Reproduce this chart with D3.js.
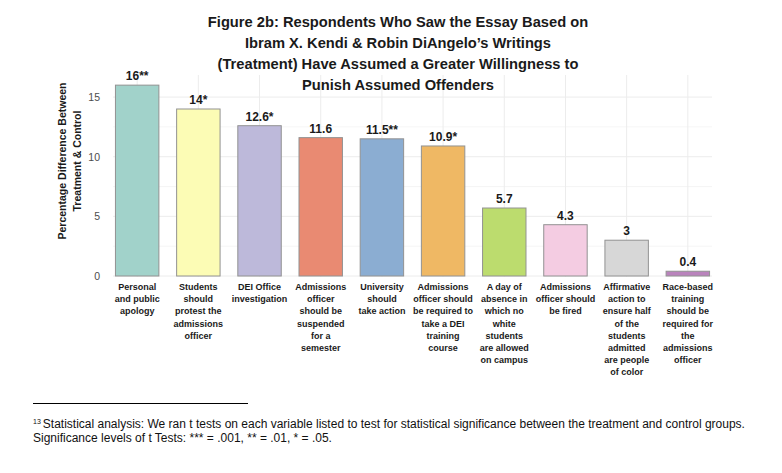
<!DOCTYPE html>
<html>
<head>
<meta charset="utf-8">
<script src="https://cdn.jsdelivr.net/npm/d3@7"></script>
<style>
  html, body { margin: 0; padding: 0; background: #fff; }
  svg { display: block; font-family: "Liberation Sans", Arial, sans-serif; }
</style>
</head>
<body>
<div id="chart"></div>
<script>
// data
const categories = [
  ["Personal", "and public", "apology"],
  ["Students", "should", "protest the", "admissions", "officer"],
  ["DEI Office", "investigation"],
  ["Admissions", "officer", "should be", "suspended", "for a", "semester"],
  ["University", "should", "take action"],
  ["Admissions", "officer should", "be required to", "take a DEI", "training", "course"],
  ["A day of", "absence in", "which no", "white", "students", "are allowed", "on campus"],
  ["Admissions", "officer should", "be fired"],
  ["Affirmative", "action to", "ensure half", "of the", "students", "admitted", "are people", "of color"],
  ["Race-based", "training", "should be", "required for", "the", "admissions", "officer"]
];
const values = [16, 14, 12.6, 11.6, 11.5, 10.9, 5.7, 4.3, 3, 0.4];
const stars = ["**", "*", "*", "", "**", "*", "", "", "", ""];
const colors = ["#A1D2CA", "#FCFCB5", "#BDB9DA", "#E98A72", "#8BADD2", "#EFB864", "#BCDC6E", "#F4CCE2", "#D7D7D7", "#B983BC"];
const yTicks = [0, 5, 10, 15];
const yMinor = [2.5, 7.5, 12.5];
const titleLines = [
  "Figure 2b: Respondents Who Saw the Essay Based on",
  "Ibram X. Kendi & Robin DiAngelo\u2019s Writings",
  "(Treatment) Have Assumed a Greater Willingness to",
  "Punish Assumed Offenders"
];
const yTitle = ["Percentage Difference Between", "Treatment & Control"];
const footLines = [
  "Statistical analysis: We ran t tests on each variable listed to test for statistical significance between the treatment and control groups.",
  "Significance levels of t Tests: *** = .001, ** = .01, * = .05."
];

const W = 782, H = 473;
const panel = { left: 113, right: 712, top: 75, bottom: 277 };

const svg = d3.select("#chart").append("svg").attr("width", W).attr("height", H);

const ids = d3.range(values.length);
const x = d3.scaleBand().domain(ids).range([panel.left, panel.right]).paddingInner(0.29).paddingOuter(0.04);
const y = d3.scaleLinear().domain([0, 16.85]).range([276, panel.top]);

// grid
const grid = svg.append("g");
grid.selectAll(".minor").data(yMinor).enter().append("line")
  .attr("x1", panel.left).attr("x2", panel.right)
  .attr("y1", d => y(d)).attr("y2", d => y(d))
  .attr("stroke", "#f3f3f3").attr("stroke-width", 0.8);
grid.selectAll(".major").data(yTicks).enter().append("line")
  .attr("x1", panel.left).attr("x2", panel.right)
  .attr("y1", d => y(d)).attr("y2", d => y(d))
  .attr("stroke", "#ececec").attr("stroke-width", 1);
grid.selectAll(".vert").data(ids).enter().append("line")
  .attr("x1", d => x(d) + x.bandwidth() / 2).attr("x2", d => x(d) + x.bandwidth() / 2)
  .attr("y1", panel.top).attr("y2", panel.bottom)
  .attr("stroke", "#ececec").attr("stroke-width", 1);

// bars
svg.selectAll("rect.bar").data(ids).enter().append("rect")
  .attr("x", d => x(d)).attr("width", x.bandwidth())
  .attr("y", d => y(values[d])).attr("height", d => y(0) - y(values[d]))
  .attr("fill", d => colors[d])
  .attr("stroke", "#929292").attr("stroke-width", 1);

// value labels
svg.selectAll("text.val").data(ids).enter().append("text")
  .attr("x", d => x(d) + x.bandwidth() / 2).attr("y", d => y(values[d]) - 5)
  .attr("text-anchor", "middle").attr("font-size", 12).attr("font-weight", "bold").attr("fill", "#1a1a1a")
  .text(d => values[d] + stars[d]);

// y axis
const yAxis = svg.append("g").attr("transform", `translate(${panel.left - 13},0)`)
  .call(d3.axisLeft(y).tickValues(yTicks).tickSize(0).tickPadding(0));
yAxis.select(".domain").remove();
yAxis.selectAll("text").attr("font-size", 10.5).attr("fill", "#4d4d4d")
  .attr("font-family", "Liberation Sans, Arial, sans-serif");

// category labels
const cat = svg.selectAll("text.cat").data(ids).enter().append("text")
  .attr("text-anchor", "middle").attr("font-size", 9).attr("font-weight", "bold").attr("fill", "#1a1a1a")
  .attr("transform", d => `translate(${x(d) + x.bandwidth() / 2},290)`);
cat.selectAll("tspan").data(d => categories[d]).enter().append("tspan")
  .attr("x", 0).attr("y", (d, i) => i * 12.2).text(d => d);

// y title
svg.append("text").attr("transform", "translate(66,161) rotate(-90)")
  .attr("text-anchor", "middle").attr("font-size", 10.5).attr("font-weight", "bold").attr("fill", "#1a1a1a")
  .selectAll("tspan").data(yTitle).enter().append("tspan")
  .attr("x", 0).attr("y", (d, i) => i * 15).text(d => d);

// title
svg.append("text").attr("text-anchor", "middle").attr("font-size", 14.7).attr("font-weight", "bold").attr("fill", "#1a1a1a")
  .selectAll("tspan").data(titleLines).enter().append("tspan")
  .attr("x", 398).attr("y", (d, i) => 27 + i * 21).text(d => d);

// footnote
svg.append("line").attr("x1", 33).attr("x2", 248).attr("y1", 403.5).attr("y2", 403.5)
  .attr("stroke", "#000").attr("stroke-width", 1);
const foot = svg.append("text").attr("font-size", 12).attr("fill", "#111");
foot.append("tspan").attr("x", 33).attr("y", 424).attr("font-size", 7).text("13");
foot.append("tspan").attr("dx", 2).attr("y", 428).text(footLines[0]);
svg.append("text").attr("x", 33).attr("y", 442).attr("font-size", 12).attr("fill", "#111")
  .text(footLines[1]);
</script>
</body>
</html>
